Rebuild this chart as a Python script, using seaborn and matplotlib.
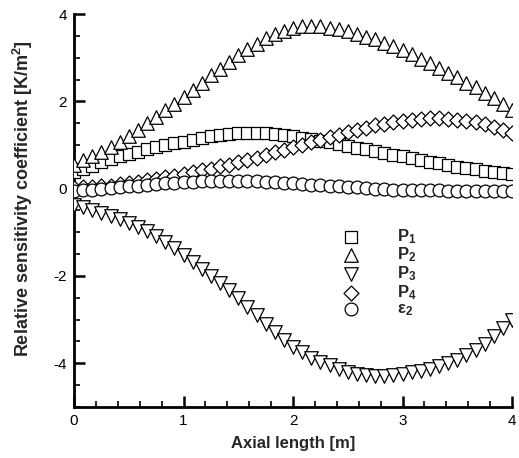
import numpy as np
import pandas as pd
import matplotlib
matplotlib.use("Agg")
import matplotlib.pyplot as plt
from matplotlib.ticker import MultipleLocator
import seaborn as sns

# -----------------------------------------------------------
# DATA
# -----------------------------------------------------------

axial = np.linspace(0, 4, 49)

p1 = [0.38, 0.46, 0.53, 0.60, 0.67, 0.74, 0.80, 0.85, 0.90, 0.95, 1.00, 1.04,
      1.08, 1.12, 1.16, 1.20, 1.23, 1.25, 1.27, 1.28, 1.28, 1.27, 1.25, 1.23,
      1.20, 1.17, 1.13, 1.10, 1.06, 1.02, 0.98, 0.94, 0.90, 0.86, 0.82, 0.78,
      0.74, 0.70, 0.66, 0.62, 0.58, 0.54, 0.50, 0.47, 0.44, 0.41, 0.38, 0.35,
      0.33]

p2 = [0.55, 0.65, 0.75, 0.85, 0.96, 1.08, 1.20, 1.35, 1.50, 1.65, 1.80, 1.95,
      2.10, 2.27, 2.43, 2.60, 2.75, 2.90, 3.05, 3.19, 3.32, 3.45, 3.54, 3.62,
      3.68, 3.72, 3.73, 3.72, 3.69, 3.65, 3.60, 3.54, 3.48, 3.42, 3.34, 3.26,
      3.18, 3.08, 2.98, 2.87, 2.76, 2.66, 2.55, 2.43, 2.32, 2.20, 2.07, 1.94,
      1.80]

p3 = [-0.38, -0.43, -0.49, -0.55, -0.62, -0.70, -0.78, -0.87, -0.97, -1.08,
      -1.22, -1.37, -1.52, -1.68, -1.84, -2.00, -2.16, -2.33, -2.50, -2.70,
      -2.90, -3.10, -3.28, -3.46, -3.62, -3.75, -3.87, -3.97, -4.05, -4.13,
      -4.20, -4.24, -4.27, -4.28, -4.28, -4.27, -4.25, -4.21, -4.17, -4.12,
      -4.06, -3.99, -3.92, -3.81, -3.69, -3.55, -3.38, -3.20, -3.00]

p4 = [0.02, 0.03, 0.04, 0.05, 0.07, 0.10, 0.12, 0.15, 0.19, 0.22, 0.26, 0.30,
      0.34, 0.38, 0.42, 0.46, 0.51, 0.55, 0.60, 0.66, 0.71, 0.77, 0.83, 0.89,
      0.95, 1.01, 1.06, 1.12, 1.18, 1.24, 1.30, 1.35, 1.40, 1.45, 1.49, 1.52,
      1.55, 1.58, 1.60, 1.61, 1.61, 1.60, 1.58, 1.55, 1.52, 1.48, 1.42, 1.35,
      1.27]

eps2 = [-0.05, -0.03, -0.02, 0.00, 0.02, 0.03, 0.05, 0.07, 0.08, 0.10, 0.12,
        0.13, 0.15, 0.16, 0.17, 0.18, 0.18, 0.18, 0.18, 0.17, 0.17, 0.16, 0.15,
        0.13, 0.12, 0.11, 0.09, 0.08, 0.07, 0.05, 0.04, 0.03, 0.01, 0.00,
        -0.01, -0.02, -0.02, -0.03, -0.03, -0.04, -0.04, -0.05, -0.05, -0.05,
        -0.06, -0.06, -0.06, -0.06, -0.06]

labels = [r'$\mathbf{P_1}$', r'$\mathbf{P_2}$', r'$\mathbf{P_3}$',
          r'$\mathbf{P_4}$', r'$\mathbf{\varepsilon_2}$']

# -----------------------------------------------------------
# TABLE FOR SEABORN
# -----------------------------------------------------------

series = [p1, p2, p3, p4, eps2]
df = pd.concat(
    [pd.DataFrame({'x': axial, 'y': vals, 'param': lab})
     for vals, lab in zip(series, labels)],
    ignore_index=True
)

sns.set_style('white')
plt.rcParams['font.family'] = ['Liberation Sans', 'DejaVu Sans']
plt.rcParams['axes.unicode_minus'] = False
plt.rcParams['mathtext.fontset'] = 'custom'
plt.rcParams['mathtext.bf'] = 'Liberation Sans:bold'
plt.rcParams['mathtext.rm'] = 'Liberation Sans'
plt.rcParams['mathtext.it'] = 'Liberation Sans:italic'

fig = plt.figure(figsize=(5.19, 4.58), dpi=100)
ax = fig.add_axes([0.1426, 0.1114, 0.844, 0.858])

marker_map = dict(zip(labels, ['s', '^', 'v', 'D', 'o']))
size_map = dict(zip(labels, [70, 95, 95, 58, 85]))

for lab in labels:
    sub = df[df['param'] == lab]
    sns.scatterplot(
        data=sub, x='x', y='y',
        marker=marker_map[lab],
        s=size_map[lab],
        facecolor='white',
        edgecolor='black',
        linewidth=0.9,
        label=lab,
        ax=ax,
        zorder=3
    )

# -----------------------------------------------------------
# AXES STYLE
# -----------------------------------------------------------

ax.set_xlim(0, 4)
ax.set_ylim(-5, 4)
ax.xaxis.set_major_locator(MultipleLocator(1))
ax.xaxis.set_minor_locator(MultipleLocator(0.2))
ax.yaxis.set_major_locator(MultipleLocator(2))
ax.yaxis.set_minor_locator(MultipleLocator(0.5))

for side in ['top', 'right']:
    ax.spines[side].set_visible(False)
for side in ['left', 'bottom']:
    ax.spines[side].set_linewidth(2)
    ax.spines[side].set_color('black')

ax.tick_params(which='major', direction='in', length=8, width=1.8,
               labelsize=11, colors='black', pad=5)
ax.tick_params(which='minor', direction='in', length=4, width=1.2,
               colors='black')
ax.tick_params(axis='both', which='both', left=True, bottom=True)

ax.set_xlabel('Axial length [m]', fontsize=12, fontweight='bold', labelpad=6)
ax.set_ylabel(r'Relative sensitivity coefficient [K/m$^\mathbf{2}$]',
              fontsize=13, fontweight='bold', labelpad=6)
ax.yaxis.set_label_coords(-0.09, 0.53)

leg = ax.legend(
    loc='upper left',
    bbox_to_anchor=(0.578, 0.475),
    frameon=False,
    fontsize=12,
    handletextpad=1.8,
    labelspacing=0.0,
    borderaxespad=0
)

plt.savefig('out.png', dpi=100)
